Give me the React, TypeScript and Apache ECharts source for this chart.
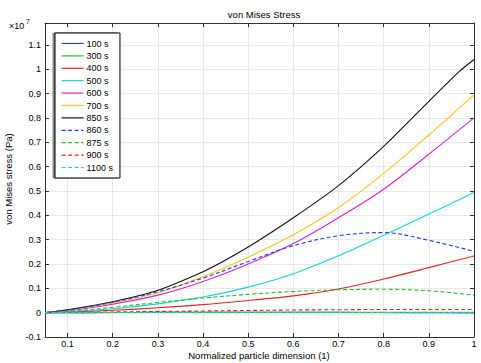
import React, { useEffect, useRef } from "react";
import * as echarts from "echarts";

// x positions (normalized particle dimension)
const xs = [0.05, 0.1, 0.2, 0.3, 0.4, 0.5, 0.6, 0.7, 0.8, 0.9, 1.0];
const xs850 = [0.05, 0.1, 0.2, 0.3, 0.4, 0.5, 0.6, 0.7, 0.8, 0.9, 0.967, 1.0];

// von Mises stress values in units of 1e7 Pa
const s100 = [0, 0, 0.0005, 0.001, 0.001, 0.001, 0.001, 0.001, 0.0005, 0, -0.001];
const s300 = [0, 0, 0.0005, 0.001, 0.001, 0.001, 0.001, 0.001, 0.001, 0.001, 0.001];
const s400 = [0, 0.002, 0.01, 0.02, 0.033, 0.05, 0.069, 0.097, 0.138, 0.185, 0.233];
const s500 = [0, 0.004, 0.016, 0.036, 0.064, 0.105, 0.16, 0.234, 0.318, 0.405, 0.494];
const s600 = [0, 0.008, 0.035, 0.072, 0.128, 0.2, 0.284, 0.39, 0.507, 0.651, 0.8];
const s700 = [0, 0.01, 0.04, 0.082, 0.148, 0.228, 0.32, 0.432, 0.572, 0.73, 0.895];
const s850 = [0, 0.012, 0.045, 0.092, 0.168, 0.27, 0.39, 0.522, 0.683, 0.868, 0.99, 1.04];
const s860 = [0, 0.011, 0.043, 0.086, 0.142, 0.21, 0.275, 0.316, 0.329, 0.297, 0.252];
const s875 = [0, 0.005, 0.022, 0.042, 0.06, 0.075, 0.087, 0.094, 0.096, 0.09, 0.072];
const s900 = [0, 0.001, 0.003, 0.005, 0.007, 0.009, 0.011, 0.012, 0.013, 0.013, 0.013];
const s1100 = [0, 0, 0, 0, 0, 0, 0, 0, 0, 0, 0];

const xTicks = [0.1, 0.2, 0.3, 0.4, 0.5, 0.6, 0.7, 0.8, 0.9, 1.0];
const yTicks = [-0.1, 0, 0.1, 0.2, 0.3, 0.4, 0.5, 0.6, 0.7, 0.8, 0.9, 1.0, 1.1];

const FONT = '"Liberation Sans", Arial, sans-serif';

const seriesDefs = [
  { name: "100 s", x: xs, y: s100, color: "#1e3cff", dash: false },
  { name: "300 s", x: xs, y: s300, color: "#2bbf2b", dash: false },
  { name: "400 s", x: xs, y: s400, color: "#e02424", dash: false },
  { name: "500 s", x: xs, y: s500, color: "#12d4d4", dash: false },
  { name: "600 s", x: xs, y: s600, color: "#d424d4", dash: false },
  { name: "700 s", x: xs, y: s700, color: "#ffc21a", dash: false },
  { name: "850 s", x: xs850, y: s850, color: "#111111", dash: false },
  { name: "860 s", x: xs, y: s860, color: "#1e3cff", dash: true },
  { name: "875 s", x: xs, y: s875, color: "#2bbf2b", dash: true },
  { name: "900 s", x: xs, y: s900, color: "#e02424", dash: true },
  { name: "1100 s", x: xs, y: s1100, color: "#12d4d4", dash: true },
];

export default function App() {
  const ref = useRef<HTMLDivElement>(null);
  useEffect(() => {
    if (!ref.current) return;
    const chart = echarts.init(ref.current, null, { renderer: "svg" });
    const axisColor = "#333";
    const gridColor = "#e8e8e8";
    const fmt = (v: number) => {
      const r = Math.round(v * 10) / 10;
      return String(r);
    };
    chart.setOption({
      animation: false,
      backgroundColor: "#fff",
      textStyle: { fontFamily: FONT },
      title: {
        text: "von Mises Stress",
        left: 259,
        top: 4,
        textAlign: "center",
        textStyle: { fontSize: 9.5, fontWeight: "normal", color: "#000", fontFamily: FONT },
      },
      grid: { left: 45, right: 7, top: 23, bottom: 26, containLabel: false, outerBoundsMode: "none" },
      legend: {
        orient: "vertical",
        left: 55,
        top: 33,
        itemWidth: 22,
        itemHeight: 8,
        itemGap: 3.4,
        padding: [6, 7, 6, 6],
        borderColor: "#000",
        borderWidth: 1,
        backgroundColor: "#fff",
        shadowColor: "rgba(0,0,0,0.45)",
        shadowBlur: 0,
        shadowOffsetX: -2,
        shadowOffsetY: 0,
        lineStyle: { width: 1.2 },
        itemStyle: { opacity: 0 },
        textStyle: { fontSize: 9, color: "#000", fontFamily: FONT, padding: [0, 0, 0, -2] },
        data: seriesDefs.map((s) => s.name),
      },
      xAxis: [
        {
          type: "value",
          min: 0.05,
          max: 1.0,
          position: "bottom",
          axisLine: { show: true, onZero: false, lineStyle: { color: axisColor, width: 1 } },
          axisTick: { show: true, inside: true, length: 4, customValues: xTicks, lineStyle: { color: axisColor } },
          axisLabel: { customValues: xTicks, fontSize: 9, color: "#000", margin: 2, formatter: fmt, fontFamily: FONT },
          splitLine: { show: true, lineStyle: { color: gridColor, width: 1 } },
        },
        {
          type: "value",
          min: 0.05,
          max: 1.0,
          position: "top",
          axisLine: { show: true, onZero: false, lineStyle: { color: axisColor, width: 1 } },
          axisTick: { show: true, inside: true, length: 4, customValues: xTicks, lineStyle: { color: axisColor } },
          axisLabel: { show: false },
          splitLine: { show: false },
        },
      ],
      yAxis: [
        {
          type: "value",
          min: -0.1,
          max: 1.19,
          position: "left",
          axisLine: { show: true, onZero: false, lineStyle: { color: axisColor, width: 1 } },
          axisTick: { show: true, inside: true, length: 4, customValues: yTicks, lineStyle: { color: axisColor } },
          axisLabel: { customValues: yTicks, fontSize: 9, color: "#000", margin: 4, formatter: fmt, fontFamily: FONT },
          splitLine: { show: true, lineStyle: { color: gridColor, width: 1 } },
        },
        {
          type: "value",
          min: -0.1,
          max: 1.19,
          position: "right",
          axisLine: { show: true, onZero: false, lineStyle: { color: axisColor, width: 1 } },
          axisTick: { show: true, inside: true, length: 4, customValues: yTicks, lineStyle: { color: axisColor } },
          axisLabel: { show: false },
          splitLine: { show: false },
        },
      ],
      graphic: [
        {
          type: "text",
          left: 9,
          top: 21,
          style: { text: "×10", fontSize: 9, fill: "#000", fontFamily: FONT },
        },
        {
          type: "text",
          left: 26,
          top: 18,
          style: { text: "7", fontSize: 6.5, fill: "#000", fontFamily: FONT },
        },
        {
          type: "text",
          x: 8,
          y: 179,
          rotation: Math.PI / 2,
          style: {
            text: "von Mises stress (Pa)",
            fontSize: 9.5,
            fill: "#000",
            fontFamily: FONT,
            align: "center",
            verticalAlign: "middle",
          },
        },
        {
          type: "text",
          x: 259,
          y: 355,
          style: {
            text: "Normalized particle dimension (1)",
            fontSize: 9.5,
            fill: "#000",
            fontFamily: FONT,
            align: "center",
            verticalAlign: "middle",
          },
        },
      ],
      series: seriesDefs.map((s) => ({
        name: s.name,
        type: "line",
        xAxisIndex: 0,
        yAxisIndex: 0,
        symbol: "none",
        smooth: s.name === "850 s" ? 0.2 : 0.35,
        data: s.x.map((x, i) => [x, s.y[i]]),
        lineStyle: { color: s.color, width: 1.1, type: s.dash ? [4, 2.5] : "solid" },
        itemStyle: { color: s.color },
      })),
    });
    return () => chart.dispose();
  }, []);
  return <div ref={ref} style={{ width: 481, height: 363, position: "absolute", left: 0, top: 0 }} />;
}
